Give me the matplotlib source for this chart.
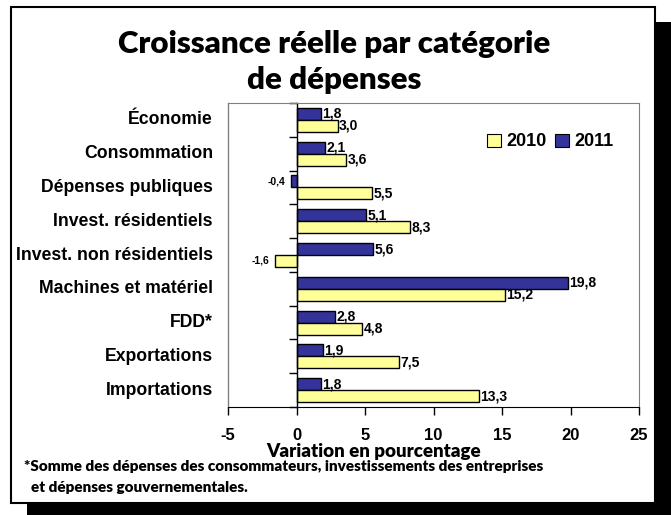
import matplotlib
matplotlib.use('Agg')
import matplotlib.pyplot as plt
from matplotlib.patches import Rectangle, Patch
import numpy as np

categories = ['Économie', 'Consommation', 'Dépenses publiques', 'Invest. résidentiels',
              'Invest. non résidentiels', 'Machines et matériel', 'FDD*', 'Exportations',
              'Importations']
values_2010 = [3.0, 3.6, 5.5, 8.3, -1.6, 15.2, 4.8, 7.5, 13.3]
values_2011 = [1.8, 2.1, -0.4, 5.1, 5.6, 19.8, 2.8, 1.9, 1.8]
xticks = [-5, 0, 5, 10, 15, 20, 25]

W, H = 671, 515
arial = 'Liberation Sans'
gill = 'Lato'
navy = '#333399'
yellow = '#FFFF99'
gray = '#808080'

fig = plt.figure(figsize=(W / 100, H / 100), dpi=100)

def fx(px):
    return px / W

def fy(py):
    return 1 - py / H

# Shadow and white panel
fig.patches.append(Rectangle((fx(27), fy(518)), fx(671) - fx(27), fy(22) - fy(518),
                             transform=fig.transFigure, facecolor='black', edgecolor='none', zorder=0))
fig.patches.append(Rectangle((fx(11), fy(503)), fx(655) - fx(11), fy(7) - fy(503),
                             transform=fig.transFigure, facecolor='white', edgecolor='black',
                             linewidth=1.5, zorder=1))

ax = fig.add_axes([fx(228), fy(407), fx(639) - fx(228), fy(103) - fy(407)])
ax.set_facecolor('none')
ax.set_zorder(2)

n = len(categories)
ypos = np.arange(n)[::-1]
h = 0.355

ax.barh(ypos + h / 2, values_2011, height=h, color=navy, edgecolor='black', linewidth=1.0)
ax.barh(ypos - h / 2, values_2010, height=h, color=yellow, edgecolor='black', linewidth=1.0)

# Data labels
for y, vals in [(ypos + h / 2, values_2011), (ypos - h / 2, values_2010)]:
    for yy, v in zip(y, vals):
        txt = ('%.1f' % v).replace('.', ',')
        if v >= 0:
            ax.annotate(txt, (v, yy), xytext=(1, 0), textcoords='offset points',
                        ha='left', va='center', fontsize=10, fontweight='bold', family=arial)
        else:
            ax.annotate(txt, (v, yy), xytext=(-4, 0), textcoords='offset points',
                        ha='right', va='center', fontsize=7.5, fontweight='bold', family=arial)

ax.set_xlim(-5, 25)
ax.set_ylim(-0.5, n - 0.5)

# Category axis at zero
ax.spines['left'].set_position(('data', 0))
ax.spines['left'].set_color('black')
ax.spines['left'].set_linewidth(1)
ax.set_yticks(np.arange(-0.5, n, 1.0))
ax.set_yticklabels([])
ax.tick_params(axis='y', direction='out', length=6, width=1, color='black')

for y, c in zip(ypos, categories):
    ax.text(-0.0365, y, c, transform=ax.get_yaxis_transform(), ha='right', va='center',
            fontsize=12.7, fontweight='bold', family=arial)

# Plot area border
ax.spines['top'].set_color(gray)
ax.spines['right'].set_color(gray)
ax.plot([0, 0], [0, 1], transform=ax.transAxes, color=gray, linewidth=1, clip_on=False)
ax.spines['bottom'].set_color('black')

ax.set_xticks(xticks)
ax.set_xticklabels([str(t) for t in xticks], fontsize=12, fontweight='bold', family=arial)
ax.tick_params(axis='x', direction='out', length=6, width=1, pad=9)

# Legend
handles = [Patch(facecolor=yellow, edgecolor='black', linewidth=0.8, label='2010'),
           Patch(facecolor=navy, edgecolor='black', linewidth=0.8, label='2011')]
ax.legend(handles=handles, ncol=2, frameon=False, loc='center left',
          bbox_to_anchor=((477 - 228 - 6) / 411, (407 - 142) / 304),
          prop={'family': arial, 'weight': 'bold', 'size': 13},
          handlelength=0.75, handleheight=0.75, handletextpad=0.3, columnspacing=0.5)

# Titles and notes
fig.text(fx(334), fy(53), 'Croissance réelle par catégorie', ha='center', va='baseline',
         fontsize=22.5, fontweight='heavy', family=gill)
fig.text(fx(334), fy(89), 'de dépenses', ha='center', va='baseline',
         fontsize=22.5, fontweight='heavy', family=gill)
fig.text(fx(374), fy(452), 'Variation en pourcentage', ha='center', va='center',
         fontsize=13.5, fontweight='heavy', family=gill)
fig.text(fx(24), fy(471), '*Somme des dépenses des consommateurs, investissements des entreprises',
         ha='left', va='baseline', fontsize=11, fontweight='heavy', family=gill)
fig.text(fx(31), fy(492), 'et dépenses gouvernementales.',
         ha='left', va='baseline', fontsize=11, fontweight='heavy', family=gill)

fig.savefig('out.png', dpi=100)
